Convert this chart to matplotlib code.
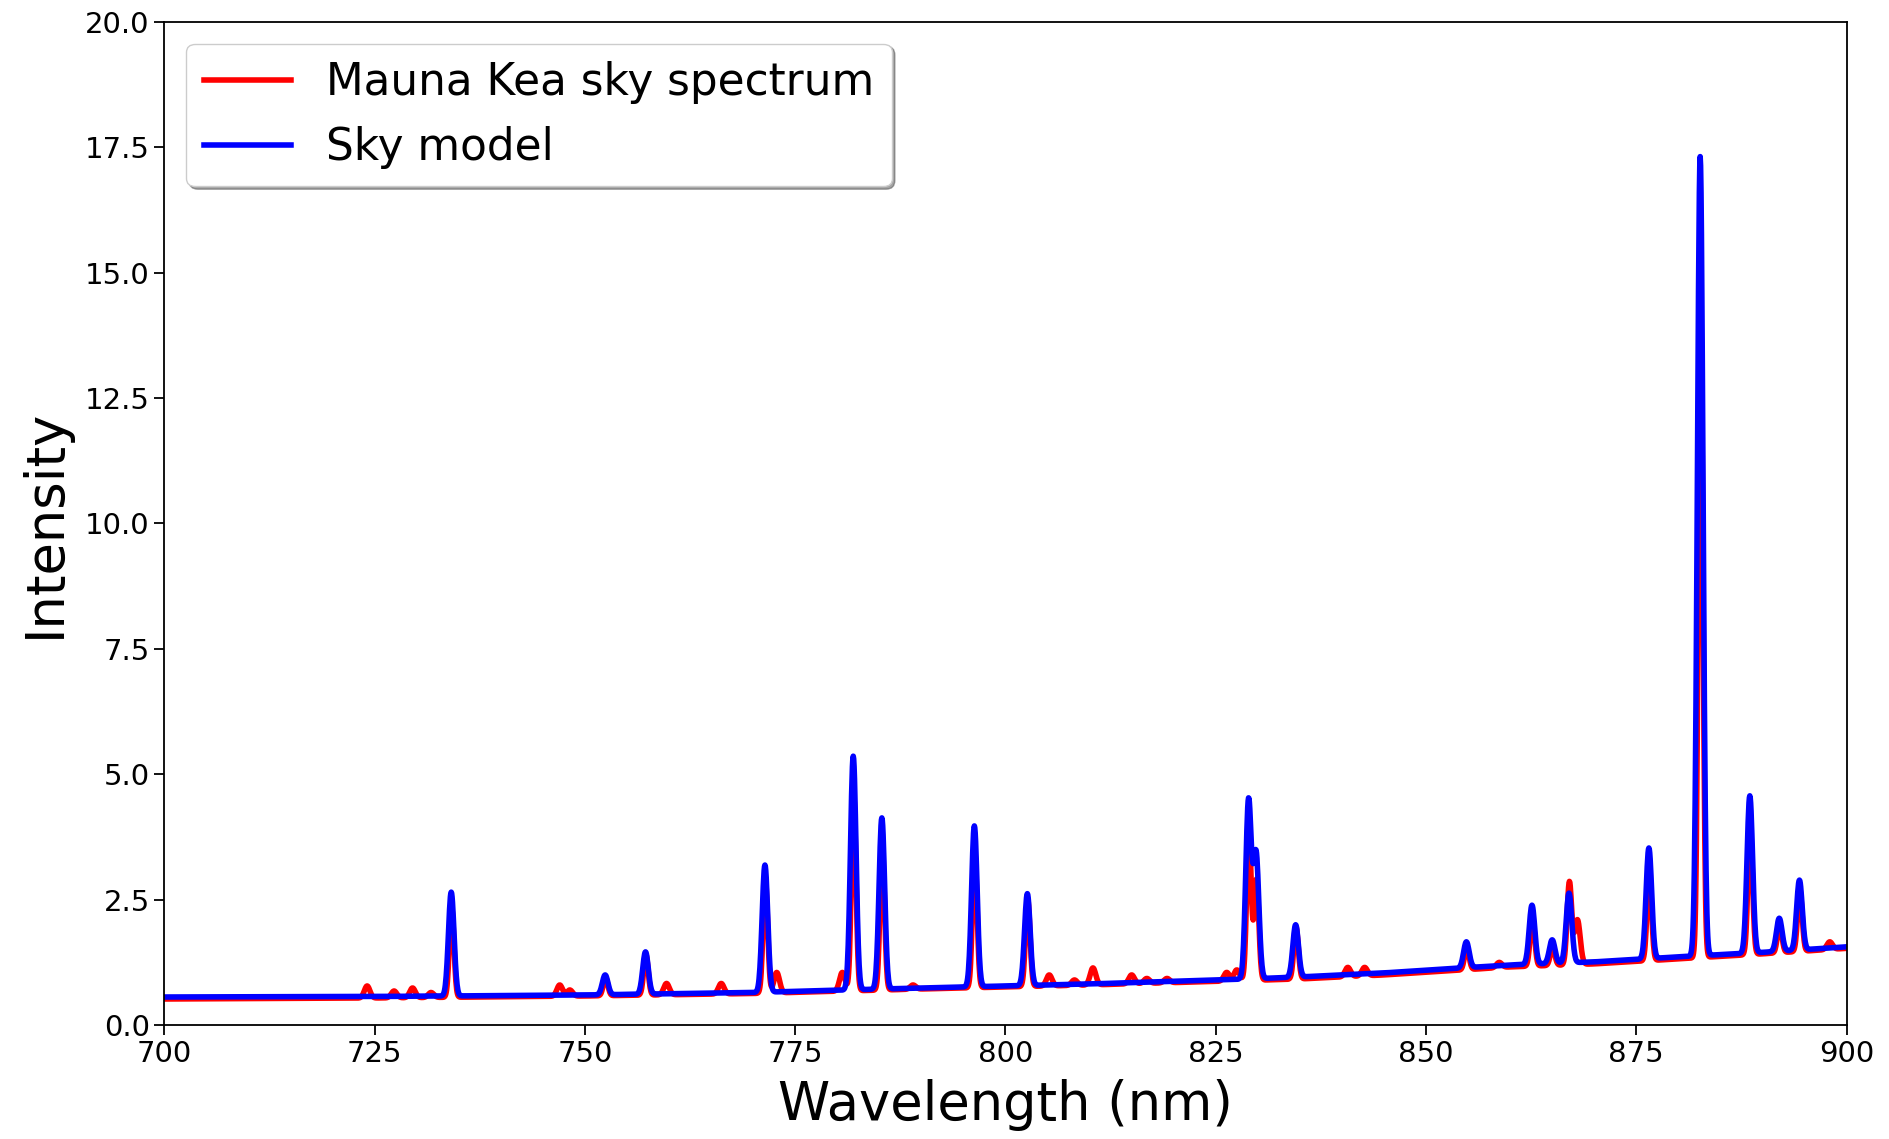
import numpy as np
import matplotlib.pyplot as plt

# continuum level
cont_wl = [700, 725, 750, 770, 790, 810, 829, 835, 845, 860, 870, 880, 890, 900]
cont_model = [0.56, 0.57, 0.60, 0.65, 0.74, 0.82, 0.92, 0.96, 1.04, 1.20, 1.26, 1.36, 1.45, 1.56]
cont_sky = [0.52, 0.54, 0.58, 0.63, 0.72, 0.80, 0.89, 0.92, 1.00, 1.16, 1.22, 1.32, 1.42, 1.53]

# emission lines: centre (nm) and peak intensity
line_wl = [734.1, 752.4, 757.2, 771.4, 781.9, 785.3, 796.3, 802.6, 828.9, 829.8,
           834.5, 854.8, 862.6, 865.0, 867.0, 876.5, 882.6, 888.5, 892.0, 894.4]
model_peak = [2.65, 1.00, 1.46, 3.19, 5.36, 4.13, 3.97, 2.62, 4.47, 3.40,
              2.00, 1.66, 2.39, 1.70, 2.63, 3.53, 17.31, 4.57, 2.13, 2.89]
sky_peak = [2.35, 0.95, 1.40, 2.90, 4.60, 3.55, 3.43, 2.49, 3.85, 2.90,
            1.95, 1.55, 2.15, 1.55, 2.85, 3.00, 14.40, 3.96, 2.00, 2.70]

# weak features only seen in the measured sky
bump_wl = [724.1, 727.3, 729.5, 731.7, 747.0, 748.2, 759.7, 766.2, 772.8, 780.6,
           789.0, 805.2, 808.2, 810.4, 815.0, 816.8, 819.2, 826.3, 827.5, 840.7,
           842.7, 858.7, 868.0, 898.0]
bump_peak = [0.78, 0.68, 0.74, 0.65, 0.80, 0.70, 0.83, 0.83, 1.05, 1.05,
             0.80, 1.00, 0.90, 1.14, 1.00, 0.93, 0.93, 1.05, 1.10, 1.15,
             1.15, 1.25, 2.10, 1.66]

wl = np.linspace(700, 900, 4001)


def spectrum(cwl, cval, centres, peaks, sigma, shift=0.0):
    base = np.interp(wl, cwl, cval)
    flux = base.copy()
    for c, p in zip(centres, peaks):
        amp = p - np.interp(c, cwl, cval)
        flux += amp * np.exp(-0.5 * ((wl - c - shift) / sigma) ** 2)
    return flux


model = spectrum(cont_wl, cont_model, line_wl, model_peak, 0.33)
sky = spectrum(cont_wl, cont_sky, line_wl, sky_peak, 0.27, shift=0.05)
sky += spectrum(cont_wl, cont_sky, bump_wl, bump_peak, 0.33) - np.interp(wl, cont_wl, cont_sky)

fig = plt.figure(figsize=(18.9, 11.39), dpi=100)
ax = fig.add_axes([0.087, 0.100, 0.890, 0.881])
ax.plot(wl, sky, color='red', lw=4, label='Mauna Kea sky spectrum')
ax.plot(wl, model, color='blue', lw=4, label='Sky model')
ax.set_xlim(700, 900)
ax.set_ylim(0, 20)
ax.set_yticks(np.arange(0, 20.1, 2.5))
ax.set_yticklabels(['%.1f' % v for v in np.arange(0, 20.1, 2.5)])
ax.tick_params(labelsize=21, length=7, width=1.3)
for s in ax.spines.values():
    s.set_linewidth(1.3)
ax.set_xlabel('Wavelength (nm)', fontsize=38, labelpad=8)
ax.set_ylabel('Intensity', fontsize=38, labelpad=10)
ax.legend(loc='upper left', fontsize=31.5, shadow=True, fancybox=True)
fig.savefig('out.png')
